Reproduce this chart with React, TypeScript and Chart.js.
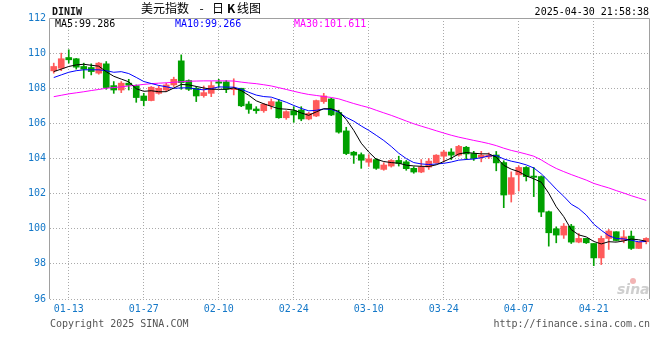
import React, { useEffect, useRef } from "react";
import { Chart, registerables } from "chart.js";

Chart.register(...registerables);

// ---------- data ----------
const dates = [
  "01-09", "01-10", "01-13", "01-14", "01-15", "01-16", "01-17", "01-20", "01-21", "01-22",
  "01-23", "01-24", "01-27", "01-28", "01-29", "01-30", "01-31", "02-03", "02-04", "02-05",
  "02-06", "02-07", "02-10", "02-11", "02-12", "02-13", "02-14", "02-17", "02-18", "02-19",
  "02-20", "02-21", "02-24", "02-25", "02-26", "02-27", "02-28", "03-03", "03-04", "03-05",
  "03-06", "03-07", "03-10", "03-11", "03-12", "03-13", "03-14", "03-17", "03-18", "03-19",
  "03-20", "03-21", "03-24", "03-25", "03-26", "03-27", "03-28", "03-31", "04-01", "04-02",
  "04-03", "04-04", "04-07", "04-08", "04-09", "04-10", "04-11", "04-14", "04-15", "04-16",
  "04-17", "04-18", "04-21", "04-22", "04-23", "04-24", "04-25", "04-28", "04-29", "04-30",
];

const opens = [
  108.99, 109.14, 109.75, 109.68, 109.24, 109.18, 108.86, 109.39, 108.15, 107.9,
  108.29, 108.15, 107.56, 107.3, 107.71, 107.9, 108.19, 109.56, 108.44, 108.0,
  107.58, 107.71, 108.36, 108.36, 107.92, 108.0, 107.1, 106.82, 106.72, 107.01,
  107.22, 106.32, 106.72, 106.76, 106.25, 106.42, 107.24, 107.39, 106.62, 105.57,
  104.36, 104.22, 103.79, 103.94, 103.38, 103.57, 103.89, 103.81, 103.44, 103.23,
  103.51, 103.76, 104.13, 104.37, 104.19, 104.64, 104.28, 104.07, 104.09, 104.2,
  103.77, 101.96, 103.07, 103.49, 103.0, 102.97, 100.97, 100.0, 99.64, 100.15,
  99.24, 99.45, 99.16, 98.34, 99.45, 99.83, 99.33, 99.58, 98.88, 99.26,
];

const highs = [
  109.43, 110.0, 110.19, 109.7, 109.43, 109.39, 109.47, 109.52, 108.38, 108.38,
  108.51, 108.19, 107.71, 108.1, 108.13, 108.29, 108.63, 109.9, 108.48, 108.1,
  108.13, 108.38, 108.51, 108.44, 108.54, 108.0, 107.24, 106.95, 107.14, 107.39,
  107.37, 106.72, 106.95, 106.95, 106.63, 107.33, 107.71, 107.43, 106.75, 105.78,
  104.41, 104.32, 104.22, 104.0, 103.76, 103.94, 104.13, 103.89, 103.53, 103.94,
  104.0, 104.22, 104.47, 104.56, 104.75, 104.69, 104.41, 104.41, 104.32, 104.4,
  103.87, 103.24, 103.58, 103.54, 103.49, 103.01, 101.01, 100.11, 100.3, 100.25,
  99.73, 99.45, 99.16, 99.58, 99.96, 99.83, 99.9, 99.87, 99.24, 99.49,
];

const lows = [
  108.86, 109.0, 109.43, 109.09, 108.57, 108.76, 108.8, 107.94, 107.71, 107.75,
  107.9, 107.2, 107.0, 107.28, 107.66, 107.81, 108.1, 107.94, 107.87, 107.24,
  107.49, 107.52, 108.06, 107.75, 107.62, 106.95, 106.57, 106.57, 106.63, 106.82,
  106.29, 106.23, 106.06, 106.15, 106.2, 106.38, 107.14, 106.44, 105.44, 104.22,
  103.72, 103.44, 103.55, 103.38, 103.33, 103.51, 103.57, 103.33, 103.16, 103.19,
  103.38, 103.72, 103.81, 103.94, 104.13, 103.94, 103.89, 103.81, 103.99, 103.3,
  101.2, 101.52, 102.15, 102.72, 101.83, 100.69, 99.01, 99.2, 99.45, 99.16,
  99.2, 99.16, 97.9, 97.96, 98.82, 99.3, 99.2, 98.82, 98.88, 99.14,
];

const closes = [
  109.24, 109.68, 109.62, 109.2, 109.09, 108.95, 109.43, 108.04, 107.9, 108.29,
  108.17, 107.47, 107.3, 108.06, 108.0, 108.19, 108.51, 108.32, 107.94, 107.56,
  107.75, 108.15, 108.29, 107.94, 107.96, 107.0, 106.8, 106.72, 107.09, 107.24,
  106.32, 106.67, 106.48, 106.25, 106.57, 107.3, 107.56, 106.48, 105.5, 104.28,
  104.19, 103.9, 103.98, 103.44, 103.63, 103.89, 103.72, 103.42, 103.23, 103.51,
  103.85, 104.19, 104.37, 104.19, 104.69, 104.26, 104.0, 104.19, 104.19, 103.75,
  101.92, 102.91, 103.49, 102.97, 102.93, 100.95, 99.77, 99.64, 100.15, 99.24,
  99.45, 99.2, 98.34, 99.45, 99.87, 99.33, 99.54, 98.88, 99.24, 99.45,
];

// moving-average values at the left edge (their windows start before the first candle)
const ma5Lead = [108.95, 109.09, 109.24, 109.33];
const ma10Lead = [108.61, 108.76, 108.91, 109.0, 109.05, 109.05, 109.05, 109.0, 108.91];
const ma30Lead = [
  107.52, 107.6, 107.68, 107.74, 107.8, 107.87, 107.93, 108.0, 108.04, 108.08,
  108.13, 108.17, 108.22, 108.26, 108.29, 108.31, 108.34, 108.37, 108.4, 108.41,
  108.42, 108.42, 108.42, 108.42, 108.41, 108.35, 108.3, 108.26, 108.2,
];

const tickDates = ["01-13", "01-27", "02-10", "02-24", "03-10", "03-24", "04-07", "04-21"];
const yMin = 96;
const yMax = 112;
const yStep = 2;

const maNames = ["MA5", "MA10", "MA30"];
const maLastText = ["99.286", "99.266", "101.611"];
const maColors = ["#000000", "#0000ff", "#ff00ff"];

const symbol = "DINIW";
const titleName = "美元指数";
const titleSep = "-";
const titleDay = "日";
const titleK = "K";
const titleTail = "线图";
const timestamp = "2025-04-30 21:58:38";
const copyright = "Copyright 2025 SINA.COM";
const siteUrl = "http://finance.sina.com.cn";
const watermark = "sina";

const UP = "#ff5a5a";
const DOWN = "#00a000";
const AXIS_BLUE = "#1478c8";
const MONO = '"DejaVu Sans Mono", monospace';

function movingAverage(n: number, lead: number[]): number[] {
  return closes.map((_, i) => {
    if (i < lead.length) return lead[i];
    let s = 0;
    for (let k = i - n + 1; k <= i; k++) s += closes[k];
    return s / n;
  });
}

const decorPlugin = {
  id: "decor",
  afterDraw(chart: any) {
    const { ctx, chartArea: a } = chart;
    ctx.save();
    // frame (left, top, right)
    ctx.strokeStyle = "#a0a0a0";
    ctx.lineWidth = 1;
    ctx.setLineDash([]);
    ctx.beginPath();
    ctx.moveTo(a.left - 0.5, a.bottom);
    ctx.lineTo(a.left - 0.5, a.top + 0.5);
    ctx.lineTo(a.right - 0.5, a.top + 0.5);
    ctx.lineTo(a.right - 0.5, a.bottom);
    ctx.stroke();

    ctx.textBaseline = "alphabetic";
    // header
    ctx.textAlign = "left";
    ctx.fillStyle = "#111";
    ctx.font = `bold 10px ${MONO}`;
    ctx.fillText(symbol, 52, 15);

    ctx.fillStyle = "#000";
    ctx.font = '12px "Noto Sans CJK SC"';
    ctx.fillText(titleName, 141, 12.5);
    ctx.textAlign = "center";
    ctx.fillText(titleSep, 201.5, 12.5);
    ctx.textAlign = "left";
    ctx.fillText(titleDay, 212, 12.5);
    ctx.font = 'bold 12px "Noto Sans CJK SC"';
    ctx.fillText(titleK, 227, 12.5);
    ctx.font = '12px "Noto Sans CJK SC"';
    ctx.fillText(titleTail, 237, 12.5);

    ctx.font = `10px ${MONO}`;
    ctx.textAlign = "right";
    ctx.fillText(timestamp, 649, 15);

    // MA legend
    ctx.textAlign = "left";
    const legendX = [55, 175, 294];
    maNames.forEach((n, i) => {
      ctx.fillStyle = maColors[i];
      ctx.fillText(`${n}:${maLastText[i]}`, legendX[i], 27);
    });

    // watermark
    ctx.fillStyle = "#f2b4b4";
    ctx.beginPath();
    ctx.arc(633, 281, 3, 0, Math.PI * 2);
    ctx.fill();
    ctx.fillStyle = "#cfcfcf";
    ctx.font = 'italic bold 14px "DejaVu Sans"';
    ctx.fillText(watermark, 617, 294);

    // footer
    ctx.fillStyle = "#555";
    ctx.font = `10px ${MONO}`;
    ctx.fillText(copyright, 50, 327);
    ctx.textAlign = "right";
    ctx.fillText(siteUrl, 650, 327);
    ctx.restore();
  },
};

export default function App() {
  const ref = useRef<HTMLCanvasElement | null>(null);

  useEffect(() => {
    if (!ref.current) return;
    const colors = closes.map((c, i) => (c >= opens[i] ? UP : DOWN));
    const ma5 = movingAverage(5, ma5Lead);
    const ma10 = movingAverage(10, ma10Lead);
    const ma30 = movingAverage(30, ma30Lead);
    const tickFont = { family: "DejaVu Sans Mono", size: 10 };

    const chart = new Chart(ref.current, {
      type: "bar",
      data: {
        labels: dates,
        datasets: [
          {
            type: "line",
            label: maNames[0],
            data: ma5,
            borderColor: maColors[0],
            borderWidth: 1,
            pointRadius: 0,
            tension: 0,
            fill: false,
            order: 0,
          } as any,
          {
            type: "line",
            label: maNames[1],
            data: ma10,
            borderColor: maColors[1],
            borderWidth: 1,
            pointRadius: 0,
            tension: 0,
            fill: false,
            order: 0,
          } as any,
          {
            type: "line",
            label: maNames[2],
            data: ma30,
            borderColor: maColors[2],
            borderWidth: 1,
            pointRadius: 0,
            tension: 0,
            fill: false,
            order: 0,
          } as any,
          {
            type: "bar",
            label: "body",
            data: opens.map((o, i) => [o, closes[i]]),
            backgroundColor: colors,
            borderWidth: 0,
            barThickness: 6,
            minBarLength: 1,
            grouped: false,
            order: 1,
          } as any,
          {
            type: "bar",
            label: "wick",
            data: lows.map((l, i) => [l, highs[i]]),
            backgroundColor: colors,
            borderWidth: 0,
            barThickness: 1,
            grouped: false,
            order: 2,
          } as any,
        ],
      },
      options: {
        responsive: false,
        animation: false,
        events: [],
        layout: { padding: { top: 18, right: 10, left: 0, bottom: 0 } },
        plugins: {
          legend: { display: false },
          tooltip: { enabled: false },
          title: { display: false },
        },
        scales: {
          x: {
            type: "category",
            offset: true,
            grid: {
              offset: false,
              drawTicks: false,
              lineWidth: 1,
              color: (c: any) => (tickDates.includes(dates[c.index]) ? "#aaaaaa" : "rgba(0,0,0,0)"),
            },
            border: { display: false, dash: [1, 2] },
            ticks: {
              autoSkip: false,
              maxRotation: 0,
              minRotation: 0,
              padding: 4,
              color: AXIS_BLUE,
              font: tickFont,
              callback: (_v: any, i: number) => (tickDates.includes(dates[i]) ? dates[i] : ""),
            },
            afterFit: (s: any) => {
              s.height = 61;
            },
          },
          y: {
            min: yMin,
            max: yMax,
            ticks: {
              stepSize: yStep,
              padding: 4,
              color: AXIS_BLUE,
              font: tickFont,
            },
            grid: { drawTicks: false, lineWidth: 1, color: "#aaaaaa" },
            border: { display: false, dash: [1, 2] },
            afterFit: (s: any) => {
              s.width = 50;
            },
          },
        },
      } as any,
      plugins: [decorPlugin],
    });
    return () => chart.destroy();
  }, []);

  return (
    <div style={{ position: "absolute", left: 0, top: 0, width: 660, height: 360, background: "#fff" }}>
      <canvas ref={ref} width={660} height={360} style={{ display: "block" }} />
    </div>
  );
}
